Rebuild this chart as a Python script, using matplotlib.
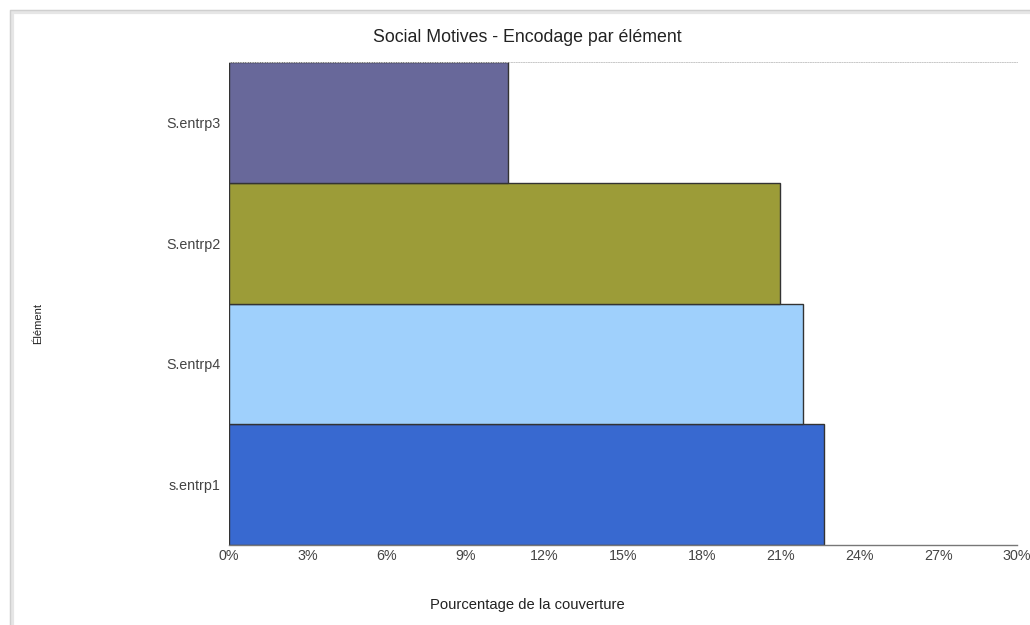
import matplotlib
matplotlib.use("Agg")
import matplotlib.pyplot as plt
from matplotlib.patches import Rectangle
from matplotlib.ticker import FuncFormatter

plt.rcParams["font.family"] = ["Liberation Sans", "DejaVu Sans"]

categories = ["s.entrp1", "S.entrp4", "S.entrp2", "S.entrp3"]
values = [22.65, 21.85, 20.97, 10.62]
colors = ["#3869d0", "#9fd0fc", "#9c9c38", "#68689a"]
xticks = [0, 3, 6, 9, 12, 15, 18, 21, 24, 27, 30]

W, H = 1030, 625
fig = plt.figure(figsize=(W / 100, H / 100), dpi=100)
fig.patch.set_facecolor("white")

# outer frame with soft shadow
fig.patches.append(Rectangle((12 / W, -0.1), 1.2, (H - 12) / H + 0.1, transform=fig.transFigure,
                             fill=False, edgecolor="#e6e6e6", lw=3, zorder=0))
fig.patches.append(Rectangle((10 / W, -0.1), 1.2, (H - 10) / H + 0.1, transform=fig.transFigure,
                             fill=False, edgecolor="#cfcfcf", lw=1, zorder=1))

ax = fig.add_axes([229 / W, 1 - 545 / H, (1017 - 229) / W, (545 - 62) / H])
y = list(range(len(categories)))
ax.barh(y, values, height=1.0, color=colors, edgecolor="#333333", linewidth=1.0, zorder=2)

ax.set_xlim(0, 30)
ax.set_ylim(-0.5, len(categories) - 0.5)
ax.set_xticks(xticks)
ax.xaxis.set_major_formatter(FuncFormatter(lambda v, p: f"{int(v)}%"))
ax.set_yticks(y)
ax.set_yticklabels(categories)
ax.tick_params(axis="both", length=0, labelsize=10.3, labelcolor="#444444")
ax.tick_params(axis="x", pad=3)
ax.tick_params(axis="y", pad=6)

for s in ["left", "right"]:
    ax.spines[s].set_visible(False)
ax.spines["bottom"].set_color("#777777")
ax.spines["bottom"].set_linewidth(1.0)
ax.spines["top"].set_color("#c8c8c8")
ax.spines["top"].set_linestyle((0, (1, 1.5)))
ax.spines["top"].set_linewidth(0.7)

fig.text(527 / W, 1 - 38 / H, "Social Motives - Encodage par élément", ha="center", va="center",
         fontsize=12.8, color="#222222")
fig.text(527 / W, 1 - 605 / H, "Pourcentage de la couverture", ha="center", va="center",
         fontsize=10.6, color="#222222")
fig.text(38 / W, 1 - 323 / H, "Élément", ha="center", va="center", rotation=90,
         fontsize=8, color="#222222")

fig.savefig("out.png", dpi=100)
